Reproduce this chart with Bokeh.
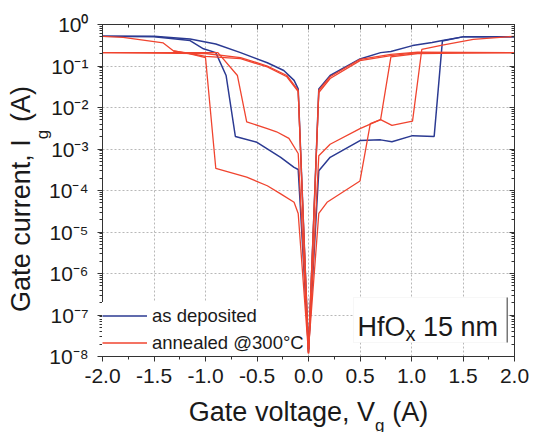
import math
from bokeh.plotting import figure
from bokeh.models import (LinearAxis, LogAxis, FixedTicker, Legend, LegendItem, Label,
                          BoxAnnotation, Range1d, CustomJSTickFormatter)
from bokeh.embed import file_html
from bokeh.resources import INLINE

# ---------------- data ----------------
x_ticks = [-2.0, -1.5, -1.0, -0.5, 0.0, 0.5, 1.0, 1.5, 2.0]
x_tick_labels = ["-2.0", "-1.5", "-1.0", "-0.5", "0.0", "0.5", "1.0", "1.5", "2.0"]
y_ticks = [1e0, 1e-1, 1e-2, 1e-3, 1e-4, 1e-5, 1e-6, 1e-7, 1e-8]
y_tick_labels = ["10⁰", "10⁻¹", "10⁻²", "10⁻³", "10⁻⁴", "10⁻⁵", "10⁻⁶", "10⁻⁷", "10⁻⁸"]

# as deposited (blue)
dep_a_v = [-2.0, -1.5, -1.15, -0.9, -0.66, -0.4, -0.24, -0.14, -0.1, 0.0]
dep_a_i = [0.52, 0.52, 0.45, 0.34, 0.21, 0.12, 0.078, 0.045, 0.028, 1.3e-8]
dep_b_v = [-2.0, -1.5, -1.15, -1.02, -0.9, -0.8, -0.71, -0.5, -0.27, -0.14, -0.1, 0.0]
dep_b_i = [0.52, 0.51, 0.41, 0.26, 0.21, 0.059, 2.0e-3, 1.45e-3, 6.3e-4, 3.6e-4, 3.2e-4, 1.5e-8]
dep_c_v = [0.0, 0.1, 0.21, 0.5, 0.7, 0.8, 1.01, 1.2, 1.3, 1.51, 2.0]
dep_c_i = [1.3e-8, 0.028, 0.059, 0.148, 0.21, 0.224, 0.31, 0.37, 0.41, 0.51, 0.51]
dep_d_v = [0.0, 0.1, 0.21, 0.5, 0.7, 0.81, 1.01, 1.22, 1.3, 1.51, 2.0]
dep_d_i = [1.5e-8, 3.0e-4, 6.3e-4, 1.6e-3, 1.66e-3, 1.5e-3, 2.1e-3, 2.0e-3, 0.40, 0.51, 0.51]

# annealed @300C (red)
ann_a_v = [-2.0, -1.8, -1.41, -1.31, -1.15, -1.0, -0.9, -0.6, -0.4, -0.27, -0.14, -0.1, 0.0]
ann_a_i = [0.52, 0.49, 0.36, 0.23, 0.195, 0.16, 3.4e-4, 2.1e-4, 1.3e-4, 8.3e-5, 5.2e-5, 2.8e-5, 1.2e-8]
ann_b_v = [-2.0, -0.88, -0.69, -0.6, -0.4, -0.31, -0.19, -0.1, 0.0]
ann_b_i = [0.21, 0.21, 0.059, 4.5e-3, 3.1e-3, 2.6e-3, 1.8e-3, 7.8e-4, 1.2e-8]
ann_c_v = [-2.0, -1.0, -0.66, -0.4, -0.21, -0.1, 0.0]
ann_c_i = [0.21, 0.2, 0.16, 0.10, 0.059, 0.026, 1.2e-8]
ann_d_v = [-1.31, -1.15, -1.0, -0.66, -0.4, -0.21, -0.1, 0.0]
ann_d_i = [0.23, 0.2, 0.17, 0.15, 0.095, 0.055, 0.024, 1.5e-8]
ann_e_v = [0.0, 0.1, 0.21, 0.5, 0.8, 1.06, 2.0]
ann_e_i = [1.2e-8, 0.023, 0.05, 0.135, 0.178, 0.21, 0.21]
ann_f_v = [0.0, 0.1, 0.21, 0.5, 0.7, 0.81, 1.01, 1.1, 1.3, 1.6, 2.0]
ann_f_i = [1.2e-8, 6.9e-4, 1.3e-3, 3.1e-3, 5.1e-3, 3.7e-3, 4.7e-3, 0.25, 0.32, 0.44, 0.52]
ann_g_v = [0.0, 0.1, 0.18, 0.5, 0.6, 0.7, 0.8, 1.06, 2.0]
ann_g_i = [1.5e-8, 2.8e-5, 5.2e-5, 1.7e-4, 4.1e-3, 5.1e-3, 0.165, 0.2, 0.21]
ann_h_v = [0.0, 0.1, 0.21, 0.5, 0.8, 1.06, 2.0]
ann_h_i = [1.5e-8, 0.026, 0.055, 0.145, 0.19, 0.215, 0.21]

legend_labels = ["as deposited", "annealed @300°C"]
sample_text = ["HfO", "x", "15 nm"]
x_title = ["Gate voltage, V", "g", "(A)"]
y_title = ["Gate current, I", "g", "(A)"]

# ---------------- style ----------------
BLUE = "#2b3a92"
RED = "#f0442f"
FONT = "Liberation Sans"
INK = "#1a1a1a"
AX = "#333333"

W, H = 535, 432
ML, MR, MT, MB = 102, 21, 24, 76
FW = W - ML - MR
FH = H - MT - MB

p = figure(width=W, height=H, x_range=Range1d(-2, 2), y_range=Range1d(1e-8, 1),
           y_axis_type="log", output_backend="svg", toolbar_location=None,
           min_border_left=ML, min_border_right=MR, min_border_top=MT, min_border_bottom=MB)
p.background_fill_color = "white"
p.border_fill_color = "white"
p.outline_line_color = AX

x_minor = [(a + b) / 2 for a, b in zip(x_ticks[:-1], x_ticks[1:])]
y_minor = [m * t for t in y_ticks[1:] for m in range(2, 10)]
xt = FixedTicker(ticks=x_ticks, minor_ticks=x_minor)
yt = FixedTicker(ticks=y_ticks, minor_ticks=y_minor)

xfmt = CustomJSTickFormatter(args=dict(lbls=x_tick_labels, tv=x_ticks),
                             code="let b=0; for (let i=0;i<tv.length;i++){ if (Math.abs(tv[i]-tick)<Math.abs(tv[b]-tick)) b=i;} return lbls[b];")
yfmt = CustomJSTickFormatter(args=dict(lbls=y_tick_labels),
                             code="const k = Math.round(-Math.log10(tick)); return lbls[k];")

for ax in p.xaxis:
    ax.ticker = xt
    ax.formatter = xfmt
for ax in p.yaxis:
    ax.ticker = yt
    ax.formatter = yfmt

def style_axis(ax, inside=False):
    ax.axis_line_color = AX
    ax.major_tick_line_color = AX
    ax.minor_tick_line_color = AX
    if inside:
        ax.major_tick_in, ax.major_tick_out = 5, 0
        ax.minor_tick_in, ax.minor_tick_out = 3, 0
        ax.major_label_text_font_size = "1px"
        ax.major_label_text_color = None
        ax.major_label_standoff = 0
    else:
        ax.major_tick_in, ax.major_tick_out = 0, 5
        ax.minor_tick_in, ax.minor_tick_out = 0, 3
        ax.major_label_text_font_size = "21px"
        ax.major_label_text_color = INK
    ax.major_label_text_font = FONT

style_axis(p.xaxis[0])
p.xaxis[0].major_label_standoff = 7
style_axis(p.yaxis[0])
p.yaxis[0].major_label_standoff = 9

top = LinearAxis(ticker=xt)
style_axis(top, inside=True)
p.add_layout(top, "above")
right = LogAxis(ticker=yt)
style_axis(right, inside=True)
p.add_layout(right, "right")

for g in (p.xgrid[0], p.ygrid[0]):
    g.grid_line_color = "#b8b8b8"
    g.grid_line_dash = "2 2"
    g.grid_line_width = 1
p.xgrid[0].ticker = xt
p.ygrid[0].ticker = yt

# ---------------- curves ----------------
blue = [(dep_a_v, dep_a_i), (dep_b_v, dep_b_i), (dep_c_v, dep_c_i), (dep_d_v, dep_d_i)]
red = [(ann_a_v, ann_a_i), (ann_b_v, ann_b_i), (ann_c_v, ann_c_i), (ann_d_v, ann_d_i),
       (ann_e_v, ann_e_i), (ann_f_v, ann_f_i), (ann_g_v, ann_g_i), (ann_h_v, ann_h_i)]
rb = [p.line(v, i, line_color=BLUE, line_width=1.5) for v, i in blue]
rr = [p.line(v, i, line_color=RED, line_width=1.3) for v, i in red]

legend = Legend(items=[LegendItem(label=legend_labels[0], renderers=[rb[0]]),
                       LegendItem(label=legend_labels[1], renderers=[rr[0]])],
                location="bottom_left", border_line_color=None,
                background_fill_color="white", background_fill_alpha=1.0,
                padding=0, margin=0, spacing=0, glyph_width=45, glyph_height=27,
                label_height=27, label_standoff=5, label_text_font=FONT,
                label_text_font_size="18.5px", label_text_color=INK)
p.add_layout(legend)

# ---------------- text helpers ----------------
CW = {' ': .278, 'G': .778, 'a': .556, 't': .278, 'e': .556, 'v': .5, 'o': .556, 'l': .222,
      'g': .556, ',': .278, 'V': .667, '(': .333, 'A': .667, ')': .333, 'c': .5, 'u': .556,
      'r': .333, 'n': .556, 'I': .278, 'H': .722, 'f': .278, 'O': .778, 'x': .5, '1': .556,
      '5': .556, 'm': .833}

def tw(s, size):
    return sum(CW.get(c, .556) for c in s) * size

def lab(place=None, **kw):
    base = dict(x_units="screen", y_units="screen", text_font=FONT, text_color=INK,
                text_baseline="alphabetic", text_align="left")
    base.update(kw)
    if place is None:
        p.add_layout(Label(**base))
    else:
        p.add_layout(Label(**base), place)

TS, SS = 27, 17
GAP = "\u00a0\u00a0\u200a"          # room left for the subscript (non-collapsing)
GAPW = 2 * 0.278 * TS + 2.2

# x title: main text in the bottom panel, subscript in the top panel
tot = tw(x_title[0], TS) + GAPW + tw(x_title[2], TS)
x0 = FW / 2 - tot / 2
BOT_REF = 67          # bottom of first label panel below the frame (axis + label)
base_x = 419          # target baseline (canvas px)
lab("below", x=x0, y=(FH + MT + BOT_REF) - base_x, text=x_title[0] + GAP + x_title[2],
    text_font_size=f"{TS}px")
TOP_REF = MT - 1.5    # bottom of the label panel above the frame
lab("above", x=x0 + tw(x_title[0], TS), y=TOP_REF - (base_x + 4), text=x_title[1],
    text_font_size=f"{SS}px")

# y title: main rotated text in the left panel, subscript in the right panel
tot = tw(y_title[0], TS) + GAPW + tw(y_title[2], TS)
y0 = 157.5 - tot / 2
LEFT_REF = 33         # left edge of the left label panel (canvas px)
base_y = 37           # target baseline x (canvas px)
lab("left", x=base_y - LEFT_REF, y=y0, text=y_title[0] + GAP + y_title[2],
    text_font_size=f"{TS}px", angle=math.pi / 2)
RIGHT_REF = ML + FW + 1.5
lab("right", x=(base_y + 6) - RIGHT_REF, y=y0 + tw(y_title[0], TS), text=y_title[1],
    text_font_size=f"{SS}px", angle=math.pi / 2)

# sample box
def dx(sx):
    return -2 + 4 * sx / FW

def dy(sy):
    return 10 ** (-8 + 8 * sy / FH)

p.add_layout(BoxAnnotation(left=dx(251), right=dx(405), bottom=dy(14), top=dy(59),
                           fill_color="white", fill_alpha=1.0, line_color="#e4e4e4", line_width=1))
p.add_layout(BoxAnnotation(left=dx(404), right=dx(405.5), bottom=dy(14), top=dy(59),
                           fill_color="#777777", fill_alpha=1.0, line_color=None))
BS, XS = 27, 20
sx0, sy0 = 255, 29.5
lab(x=sx0, y=sy0, text=sample_text[0], text_font_size=f"{BS}px")
lab(x=sx0 + tw("HfO", BS), y=sy0 - 7, text=sample_text[1], text_font_size=f"{XS}px")
lab(x=sx0 + tw("HfO", BS) + tw("x", XS) + tw(" ", BS), y=sy0, text=sample_text[2],
    text_font_size=f"{BS}px")

open("out.html", "w").write(file_html(p, INLINE))
